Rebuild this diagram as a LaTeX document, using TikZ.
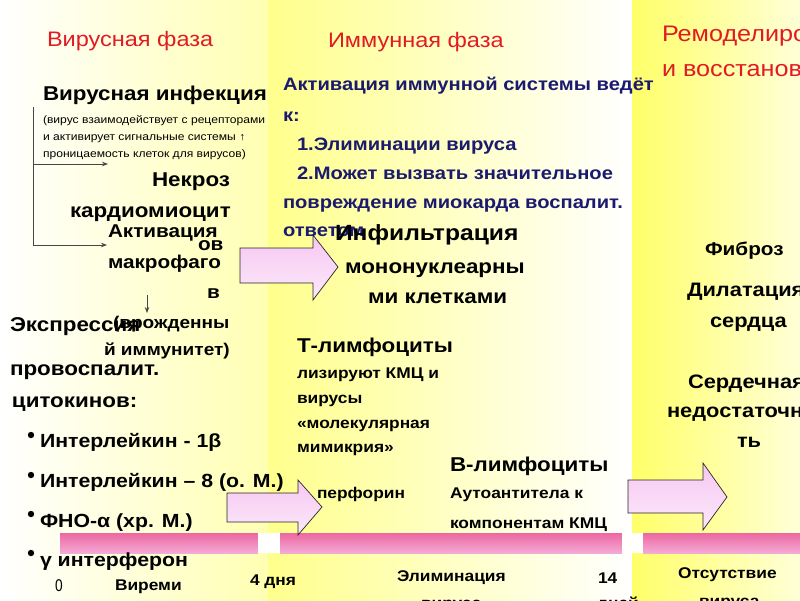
\documentclass[tikz,border=0pt]{standalone}
\usepackage{fontspec}
\setmainfont{Liberation Sans}[FakeStretch=1.12]
\newfontfamily\plainsans{Liberation Sans}
\usetikzlibrary{arrows.meta}
\newcommand\fsz[1]{\fontsize{#1}{#1}\selectfont}
\definecolor{hdrred}{RGB}{226,26,36}
\definecolor{navyblue}{RGB}{26,26,110}
\definecolor{linegray}{RGB}{70,70,70}
\definecolor{arrpinkA}{RGB}{246,200,242}
\definecolor{arrpinkB}{RGB}{252,232,250}
\definecolor{barA}{RGB}{236,104,160}
\definecolor{barB}{RGB}{244,170,214}
\begin{document}
\begin{tikzpicture}[x=1pt,y=-1pt,
  t/.style={anchor=base west,inner sep=0pt,outer sep=0pt},
  hdr/.style={t,text=hdrred,font=\fsz{21}},
  bigb/.style={t,font=\fsz{20}\bfseries},
  bulb/.style={t,font=\fsz{19}\bfseries},
  midb/.style={t,font=\fsz{18.5}\bfseries},
  rtb/.style={t,font=\fsz{19.5}\bfseries},
  nav/.style={t,text=navyblue,font=\fsz{18}\bfseries},
  smb/.style={t,font=\fsz{15.5}\bfseries},
  tiny/.style={t,font=\fsz{10.8}},
  conn/.style={draw=linegray,line width=0.8pt},
  tipc/.style={-{Stealth[length=6pt,width=4.5pt]}},
  blockarrow/.style={draw=black!85,line width=0.7pt,top color=arrpinkA,bottom color=arrpinkB},
  pinkbar/.style={top color=barA,bottom color=barB},
  bul/.style={fill=black}]
\useasboundingbox (0,0) rectangle (800,600);
\clip (0,0) rectangle (800,600);
% backgrounds
\shade[left color=white,right color={rgb,255:red,255;green,255;blue,178}] (0,0) rectangle (268,600);
\shade[left color={rgb,255:red,255;green,255;blue,140},right color=white] (268,0) rectangle (632,600);
\shade[left color={rgb,255:red,255;green,255;blue,105},right color={rgb,255:red,255;green,255;blue,215}] (632,0) rectangle (800,600);
% time bars
\shade[pinkbar] (60,533) rectangle (258,553);
\fill[white] (258,533) rectangle (280,553);
\shade[pinkbar] (280,533) rectangle (622,553);
\fill[white] (622,533) rectangle (643,553);
\shade[pinkbar] (643,533) rectangle (800,553);
% block arrows
\draw[blockarrow] (240,248) -- (313,248) -- (313,235) -- (338,267) -- (313,300) -- (313,283) -- (240,283) -- cycle;
\draw[blockarrow] (227,493) -- (298,493) -- (298,480) -- (322,507) -- (298,535) -- (298,522) -- (227,522) -- cycle;
\draw[blockarrow] (628,480) -- (703,480) -- (703,463) -- (727,497) -- (703,530) -- (703,513) -- (628,513) -- cycle;
% headers
\node[hdr] (h1) at (47,46) {Вирусная фаза};
\node[hdr] (h2) at (328,47) {Иммунная фаза};
\node[hdr,font=\fsz{22.5}] (h3) at (662,41) {Ремоделирование};
\node[hdr,font=\fsz{22.5}] (h4) at (662,76) {и восстановление};
% left column
\node[bigb] (vi) at (43,100) {Вирусная инфекция};
\node[tiny] (s1) at (43,123) {(вирус взаимодействует с рецепторами};
\node[tiny] (s2) at (43,140) {и активирует сигнальные системы \textbf{↑}};
\node[tiny] (s3) at (43,157) {проницаемость клеток для вирусов)};
\node[bigb] (nk) at (152,186) {Некроз};
\node[bigb] (km) at (70,217) {кардиомиоцит};
\node[midb] (ak) at (108,237) {Активация};
\node[midb] (ov) at (198,250) {ов};
\node[midb] (mf) at (108,268) {макрофаго};
\node[midb] (vv) at (207,298) {в};
\node[bigb] (ex) at (10,331) {Экспрессия};
\node[t,font=\fsz{17}\bfseries] (vr) at (113,328) {(врожденны};
\node[t,font=\fsz{17}\bfseries] (im) at (104,355) {й иммунитет)};
\node[bigb] (pv) at (10,375) {провоспалит.};
\node[bigb] (ck) at (12,407) {цитокинов:};
\node[bulb] (b1) at (40,447) {Интерлейкин - 1β};
\node[bulb] (b2) at (40,487) {Интерлейкин – 8 (о. М.)};
\node[bulb] (b3) at (40,527) {ФНО-α (хр. М.)};
\node[bulb] (b4) at (40,566) {γ интерферон};
\fill[bul] (31,435) circle (3.2);
\fill[bul] (31,475) circle (3.2);
\fill[bul] (31,514) circle (3.2);
\fill[bul] (31,553) circle (3.2);
\node[t,font=\fsz{17}] (z0) at (55,591) {\scalebox{0.72}[1]{0}};
\node[smb] (vm) at (115,590) {Виреми};
\node[smb] (d4) at (250,585) {4 дня};
% left connectors
\coordinate (ctop) at (33,107);
\coordinate (cmid) at (33,164);
\coordinate (cnk) at (108,164);
\coordinate (cak) at (107,245);
\coordinate (sa) at (147,295);
\coordinate (sb) at (147,313);
\draw[conn,tipc] (ctop) |- (cak);
\draw[conn,tipc] (cmid) -- (cnk);
\draw[conn,tipc] (sa) -- (sb);
% middle column
\node[nav] (a1) at (283,90) {Активация иммунной системы ведёт};
\node[nav] (a2) at (283,121) {к:};
\node[nav] (a3) at (297,150) {1.Элиминации вируса};
\node[nav] (a4) at (297,179) {2.Может вызвать значительное};
\node[nav] (a5) at (283,208) {повреждение миокарда воспалит.};
\node[nav] (a6) at (283,236) {ответом};
\node[t,font=\fsz{22}\bfseries] (inf) at (335,240) {Инфильтрация};
\node[bigb] (mn) at (345,273) {мононуклеарны};
\node[bigb] (mk) at (368,303) {ми клетками};
\node[bigb] (tl) at (297,352) {Т-лимфоциты};
\node[smb] (l1) at (297,378) {лизируют КМЦ и};
\node[smb] (l2) at (297,403) {вирусы};
\node[smb] (l3) at (297,428) {«молекулярная};
\node[smb] (l4) at (297,452) {мимикрия»};
\node[smb] (pf) at (317,498) {перфорин};
\node[bigb] (bl) at (450,471) {В-лимфоциты};
\node[smb] (au) at (450,498) {Аутоантитела к};
\node[smb] (kk) at (450,528) {компонентам КМЦ};
\node[smb] (el) at (397,581) {Элиминация};
\node[smb] (el2) at (421,608) {вируса};
\node[smb] (d14) at (598,583) {14};
\node[smb] (d14b) at (597,608) {дней};
% right column
\node[midb] (fb) at (705,255) {Фиброз};
\node[rtb] (dl) at (687,296) {Дилатация};
\node[rtb] (sd) at (710,327) {сердца};
\node[rtb] (sn) at (688,388) {Сердечная};
\node[rtb] (nd) at (667,417) {недостаточность};
\node[rtb] (tt) at (737,447) {ть};
\node[smb] (ot) at (678,578) {Отсутствие};
\node[smb] (ot2) at (699,606) {вируса};
\end{tikzpicture}
\end{document}
